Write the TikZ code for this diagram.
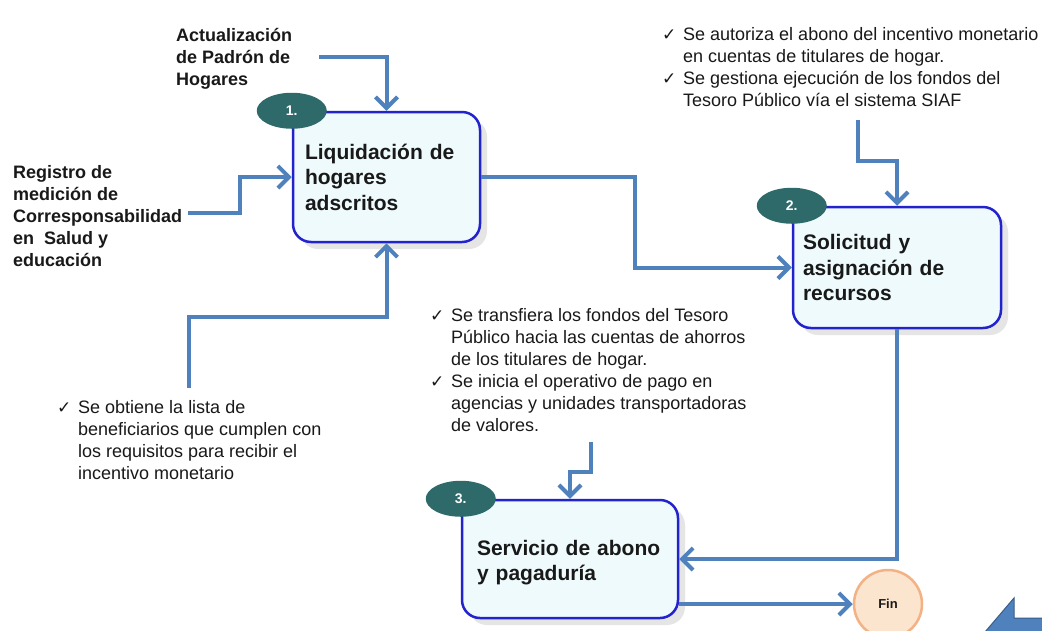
\documentclass[tikz,border=0pt]{standalone}
\usepackage{fontspec}
\setmainfont{Liberation Sans}
\newfontfamily\symfont{DejaVu Sans}
\usepackage{tikz}
\usetikzlibrary{arrows.meta,
				shapes.geometric,
				shadows,
				positioning}
\definecolor{boxline}{RGB}{35,35,205}
\definecolor{boxfill}{RGB}{239,250,252}
\definecolor{badgeteal}{RGB}{46,106,106}
\definecolor{flowblue}{RGB}{79,129,189}
\definecolor{flowdark}{RGB}{56,93,138}
\definecolor{finfill}{RGB}{252,229,207}
\definecolor{finline}{RGB}{244,177,131}
\definecolor{darktext}{RGB}{25,25,25}
\newcommand{\chk}{\makebox[21pt][l]{\symfont\fontsize{17}{22}\selectfont ✓}}
\newcommand{\ind}{\hspace*{21pt}}

\begin{document}
\begin{tikzpicture}[x=1pt, y=-1pt,
  every node/.style={text=darktext},
  paso/.style={rectangle, rounded corners=18pt, draw=boxline, line width=2.5pt, fill=boxfill,
    drop shadow={shadow xshift=7pt, shadow yshift=-7pt, fill=black!20},
    align=left, font=\bfseries\fontsize{21}{25.5}\selectfont},
  numero/.style={ellipse, fill=badgeteal, minimum width=70pt, minimum height=36pt, inner sep=0pt,
    text=white, font=\bfseries\fontsize{14}{16}\selectfont},
  rotulo/.style={anchor=north west, inner sep=0pt, align=left, font=\bfseries\fontsize{18}{22}\selectfont},
  nota/.style={anchor=north west, inner sep=0pt, align=left, font=\fontsize{18}{22}\selectfont},
  flujo/.style={draw=flowblue, line width=4pt, -{Straight Barb[length=11pt, width=22pt]}}]
  \clip (0,0) rectangle (1042,630);
  \fill[white] (0,0) rectangle (1042,630);

  % Prozesse
  \node[paso, minimum height=130pt, text width=163pt, inner xsep=12pt] (liq) at (386.5,177) {Liquidación de\\hogares\\adscritos};
  \node[paso, minimum height=121pt, text width=188pt, inner xsep=10pt] (sol) at (897,267.5) {Solicitud y\\asignación de\\recursos};
  \node[paso, minimum height=118pt, text width=186pt, inner xsep=15pt] (ser) at (570,559) {\rule{0pt}{22pt}Servicio de abono\\y pagaduría};
  \node[circle, draw=finline, line width=2.5pt, fill=finfill, minimum size=68pt,
    font=\bfseries\fontsize{13}{15}\selectfont] (fin) at (888,604) {Fin};

  \node[numero] (n1) at (liq.north west) {1.};
  \node[numero] (n2) at (sol.north west) {2.};
  \node[numero] (n3) at (ser.north west) {3.};

  % Eingaben
  \node[rotulo] (padron) at (176,26) {\strut Actualización\\de Padrón de\\Hogares};
  \node[rotulo] (registro) at (13,163) {\strut Registro de\\medición de\\Corresponsabilidad\\en\ \ Salud y\\educación};
  \node[nota] (siaf) at (662,25) {\chk\strut Se autoriza el abono del incentivo monetario\\\ind en cuentas de titulares de hogar.\\\chk Se gestiona ejecución de los fondos del\\\ind Tesoro Público vía el sistema SIAF};
  \node[nota] (pago) at (430,306) {\chk\strut Se transfiera los fondos del Tesoro\\\ind Público hacia las cuentas de ahorros\\\ind de los titulares de hogar.\\\chk Se inicia el operativo de pago en\\\ind agencias y unidades transportadoras\\\ind de valores.};
  \node[nota] (lista) at (57,398) {\chk\strut Se obtiene la lista de\\\ind beneficiarios que cumplen con\\\ind los requisitos para recibir el\\\ind incentivo monetario};

  \coordinate (padron-out) at (319,57);
  \coordinate (registro-out) at (188,213);
  \coordinate (siaf-out) at (858,120);
  \coordinate (pago-out) at (591,442);
  \coordinate (lista-out) at (189,388);

  % Verbindungen
  \draw[flujo] (padron-out) -| (liq.north);
  \draw[flujo] (registro-out) -- ++(52,0) |- (liq.west);
  \draw[flujo] (lista-out) |- ([yshift=-74pt]liq.south) -- (liq.south);
  \draw[flujo] (liq.east) -- ++(154,0) |- (sol.west);
  \draw[flujo] (siaf-out) |- ([yshift=45pt]sol.north) -- (sol.north);
  \draw[flujo] (sol.south) |- (ser.east);
  \draw[flujo] (pago-out) -- ++(0,30) -| (ser.north);
  \draw[flujo] (ser.east |- fin.west) -- (fin.west);

  % Ecke
  \fill[flowblue, draw=flowdark, line width=1pt] (985,632) -- (1014,598) -- (1014,618) -- (1044,618) -- (1044,632) -- cycle;
\end{tikzpicture}
\end{document}
